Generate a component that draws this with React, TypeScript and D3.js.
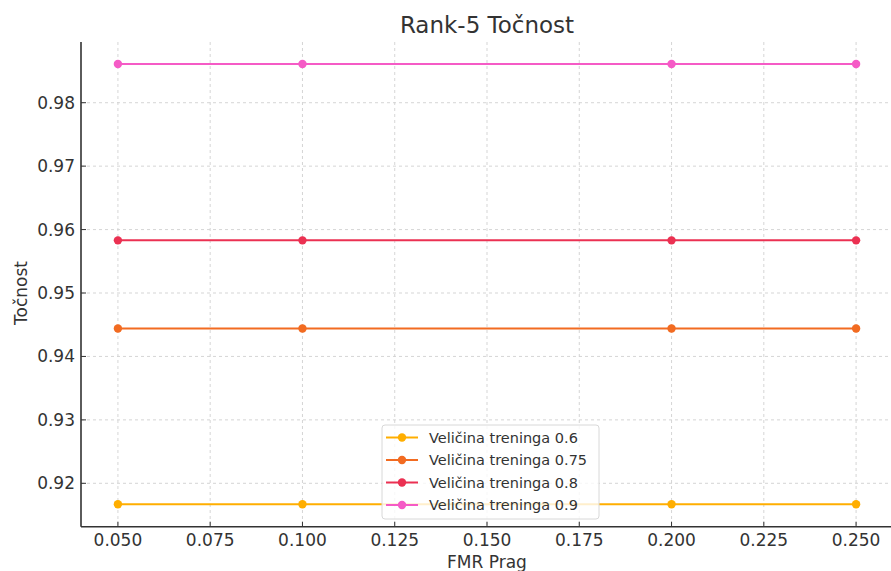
import React from "react";
import * as d3 from "d3";

const fmrThresholds = [0.05, 0.1, 0.2, 0.25];
const seriesNames = [
  "Veličina treninga 0.6",
  "Veličina treninga 0.75",
  "Veličina treninga 0.8",
  "Veličina treninga 0.9",
];
const values06 = [0.9167, 0.9167, 0.9167, 0.9167];
const values075 = [0.9444, 0.9444, 0.9444, 0.9444];
const values08 = [0.9583, 0.9583, 0.9583, 0.9583];
const values09 = [0.9861, 0.9861, 0.9861, 0.9861];
const seriesColors = ["#FFAE00", "#F26B21", "#EB3152", "#F55BC6"];
const xTicks = [0.05, 0.075, 0.1, 0.125, 0.15, 0.175, 0.2, 0.225, 0.25];
const yTicks = [0.92, 0.93, 0.94, 0.95, 0.96, 0.97, 0.98];

const W = 891;
const H = 571;
const L = 81;
const R = 893;
const T = 42;
const B = 526.7;

export default function App() {
  const x = d3.scaleLinear().domain([0.04, 0.26]).range([L, R]);
  const y = d3.scaleLinear().domain([0.91316, 0.98957]).range([B, T]);
  const allSeries = [values06, values075, values08, values09];
  const line = d3
    .line<[number, number]>()
    .x((d) => x(d[0]))
    .y((d) => y(d[1]));
  const font = "DejaVu Sans, sans-serif";
  const textColor = "#333";

  const legX = 382;
  const legY = 425;
  const legW = 217;
  const legH = 94;

  return (
    <svg
      width={W}
      height={H}
      style={{ position: "absolute", left: 0, top: 0, background: "#fff" }}
      fontFamily={font}
    >
      <rect x={0} y={0} width={W} height={H} fill="#fff" />
      {/* grid */}
      {xTicks.map((t) => (
        <line
          key={"gx" + t}
          x1={x(t)}
          x2={x(t)}
          y1={T}
          y2={B}
          stroke="#d0d0d0"
          strokeWidth={0.9}
          strokeDasharray="3,3"
        />
      ))}
      {yTicks.map((t) => (
        <line
          key={"gy" + t}
          x1={L}
          x2={R}
          y1={y(t)}
          y2={y(t)}
          stroke="#d0d0d0"
          strokeWidth={0.9}
          strokeDasharray="3,3"
        />
      ))}
      {/* series */}
      {allSeries.map((vals, i) => {
        const pts: [number, number][] = fmrThresholds.map((f, j) => [f, vals[j]]);
        return (
          <g key={"s" + i}>
            <path d={line(pts) || ""} fill="none" stroke={seriesColors[i]} strokeWidth={2} />
            {pts.map((p, j) => (
              <circle key={j} cx={x(p[0])} cy={y(p[1])} r={4.2} fill={seriesColors[i]} />
            ))}
          </g>
        );
      })}
      {/* spines */}
      <line x1={L} x2={L} y1={T} y2={B} stroke="#333" strokeWidth={1.6} />
      <line x1={L} x2={R} y1={B} y2={B} stroke="#333" strokeWidth={1.6} />
      {/* ticks */}
      {xTicks.map((t) => (
        <g key={"tx" + t}>
          <line x1={x(t)} x2={x(t)} y1={B} y2={B - 5} stroke="#333" strokeWidth={1} />
          <text
            x={x(t)}
            y={546}
            textAnchor="middle"
            fontSize={17}
            fill={textColor}
          >
            {d3.format(".3f")(t)}
          </text>
        </g>
      ))}
      {yTicks.map((t) => (
        <g key={"ty" + t}>
          <line x1={L} x2={L + 5} y1={y(t)} y2={y(t)} stroke="#333" strokeWidth={1} />
          <text
            x={L - 6}
            y={y(t)}
            dy="0.35em"
            textAnchor="end"
            fontSize={17}
            fill={textColor}
          >
            {d3.format(".2f")(t)}
          </text>
        </g>
      ))}
      {/* title & labels */}
      <text x={(L + R) / 2} y={33} textAnchor="middle" fontSize={23} fill={textColor}>
        Rank-5 Točnost
      </text>
      <text x={(L + R) / 2} y={568} textAnchor="middle" fontSize={17} fill={textColor}>
        FMR Prag
      </text>
      <text
        transform={`translate(27,293) rotate(-90)`}
        textAnchor="middle"
        fontSize={17}
        fill={textColor}
      >
        Točnost
      </text>
      {/* legend */}
      <rect
        x={legX}
        y={legY}
        width={legW}
        height={legH}
        rx={3}
        fill="#fff"
        fillOpacity={0.8}
        stroke="#d8d8d8"
        strokeWidth={1}
      />
      {seriesNames.map((name, i) => {
        const cy = legY + 12.5 + i * 22.5;
        return (
          <g key={"l" + i}>
            <line x1={legX + 4} x2={legX + 36} y1={cy} y2={cy} stroke={seriesColors[i]} strokeWidth={2} />
            <circle cx={legX + 20} cy={cy} r={4.2} fill={seriesColors[i]} />
            <text x={legX + 47} y={cy} dy="0.35em" fontSize={14.5} fill={textColor}>
              {name}
            </text>
          </g>
        );
      })}
    </svg>
  );
}
